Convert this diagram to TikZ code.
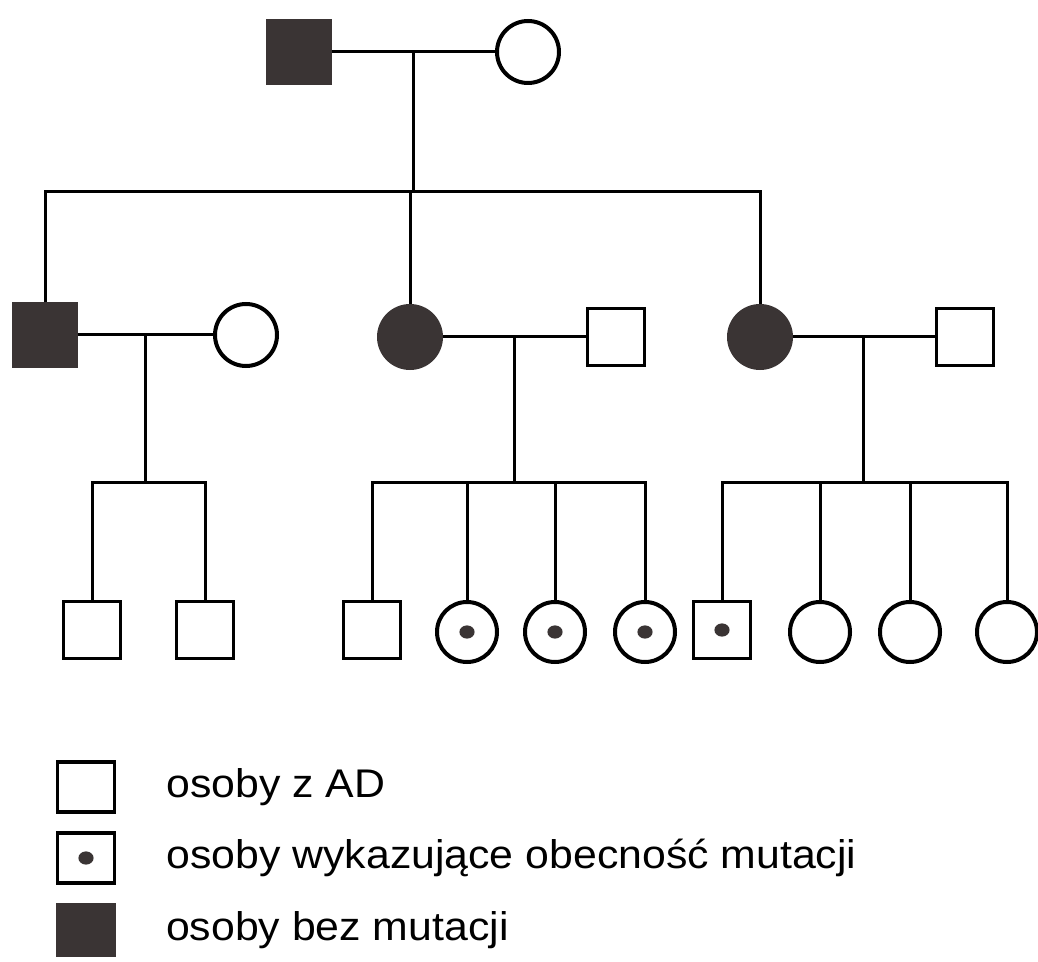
\documentclass[tikz,border=0pt]{standalone}
\usepackage{fontspec}
\setmainfont{Liberation Sans}
\usetikzlibrary{calc,positioning}
\definecolor{darkx}{HTML}{3A3434}
\tikzset{
  sq/.style={rectangle,draw=black,line width=1.6pt,fill=white,minimum size=28.5pt,inner sep=0pt},
  ci/.style={circle,draw=black,line width=2pt,fill=white,minimum size=30pt,inner sep=0pt},
  aff/.style={fill=darkx,draw=darkx,minimum size=31pt},
  dot/.style={path picture={\fill[darkx] (path picture bounding box.center) ellipse (3.8pt and 3.3pt);}},
  ln/.style={line width=1.5pt},
  lab/.style={font=\fontsize{20}{24}\selectfont,inner sep=0pt,xscale=1.07,transform shape}
}
\begin{document}
\begin{tikzpicture}[x=0.5pt,y=-0.5pt]
\useasboundingbox (0,0) rectangle (1038,962);
% generation I
\node[sq,aff] (gf) at (299,52) {};
\node[ci,minimum size=31pt] (gm) at (528,52) {};
\draw[ln] (gf) -- (gm);
\coordinate (j1) at ($(gf.east)!0.5!(gm.west)$);
\path (0,192) coordinate (r2) (0,482) coordinate (r3);
% generation II
\node[sq,aff] (a0) at (45,335) {};
\node[ci,minimum size=31pt] (aw) at (246,335) {};
\node[ci,aff] (b0) at (410,337) {};
\node[sq] (bh) at (616,337) {};
\node[ci,aff] (c0) at (760,337) {};
\node[sq] (ch) at (965,337) {};
\draw[ln] (a0) -- (aw);
\draw[ln] (b0) -- (bh);
\draw[ln] (c0) -- (ch);
\coordinate (j2) at ($(a0.east)!0.5!(aw.west)$);
\coordinate (j3) at ($(b0.east)!0.5!(bh.west)$);
\coordinate (j4) at ($(c0.east)!0.5!(ch.west)$);
\draw[ln] (j1) -- (j1 |- r2);
\draw[ln] (a0.north) -- (a0.north |- r2) -- (c0.north |- r2) -- (c0.north);
\draw[ln] (b0.north) -- (b0.north |- r2);
% generation III
\node[sq] (a1) at (92,630) {};
\node[sq] (a2) at (205,630) {};
\node[sq] (b1) at (372,630) {};
\foreach \n/\xx in {2/467,3/555,4/645}
  \node[ci,dot] (b\n) at (\xx,632) {};
\node[sq,dot] (c1) at (722,630) {};
\foreach \n/\xx in {2/820,3/910,4/1007}
  \node[ci] (c\n) at (\xx,632) {};
\draw[ln] (j2) -- (j2 |- r3);
\draw[ln] (j3) -- (j3 |- r3);
\draw[ln] (j4) -- (j4 |- r3);
\draw[ln] (a1.north) -- (a1.north |- r3) -- (a2.north |- r3) -- (a2.north);
\draw[ln] (b1.north) -- (b1.north |- r3) -- (b4.north |- r3) -- (b4.north);
\draw[ln] (c1.north) -- (c1.north |- r3) -- (c4.north |- r3) -- (c4.north);
\foreach \n in {2,3} {
  \draw[ln] (b\n.north) -- (b\n.north |- r3);
  \draw[ln] (c\n.north) -- (c\n.north |- r3);
}
% legend
\node[sq,minimum height=25pt] (k1) at (86,787) {};
\node[sq,dot,minimum height=25pt] (k2) at (86,858) {};
\node[sq,aff,minimum width=28pt,minimum height=25pt] (k3) at (86,930) {};
\node[lab,right=25pt of k1] (t1) {osoby z AD};
\node[lab,right=25pt of k2] (t2) {osoby wykazujące obecność mutacji};
\node[lab,right=25pt of k3] (t3) {osoby bez mutacji};
\end{tikzpicture}
\end{document}
